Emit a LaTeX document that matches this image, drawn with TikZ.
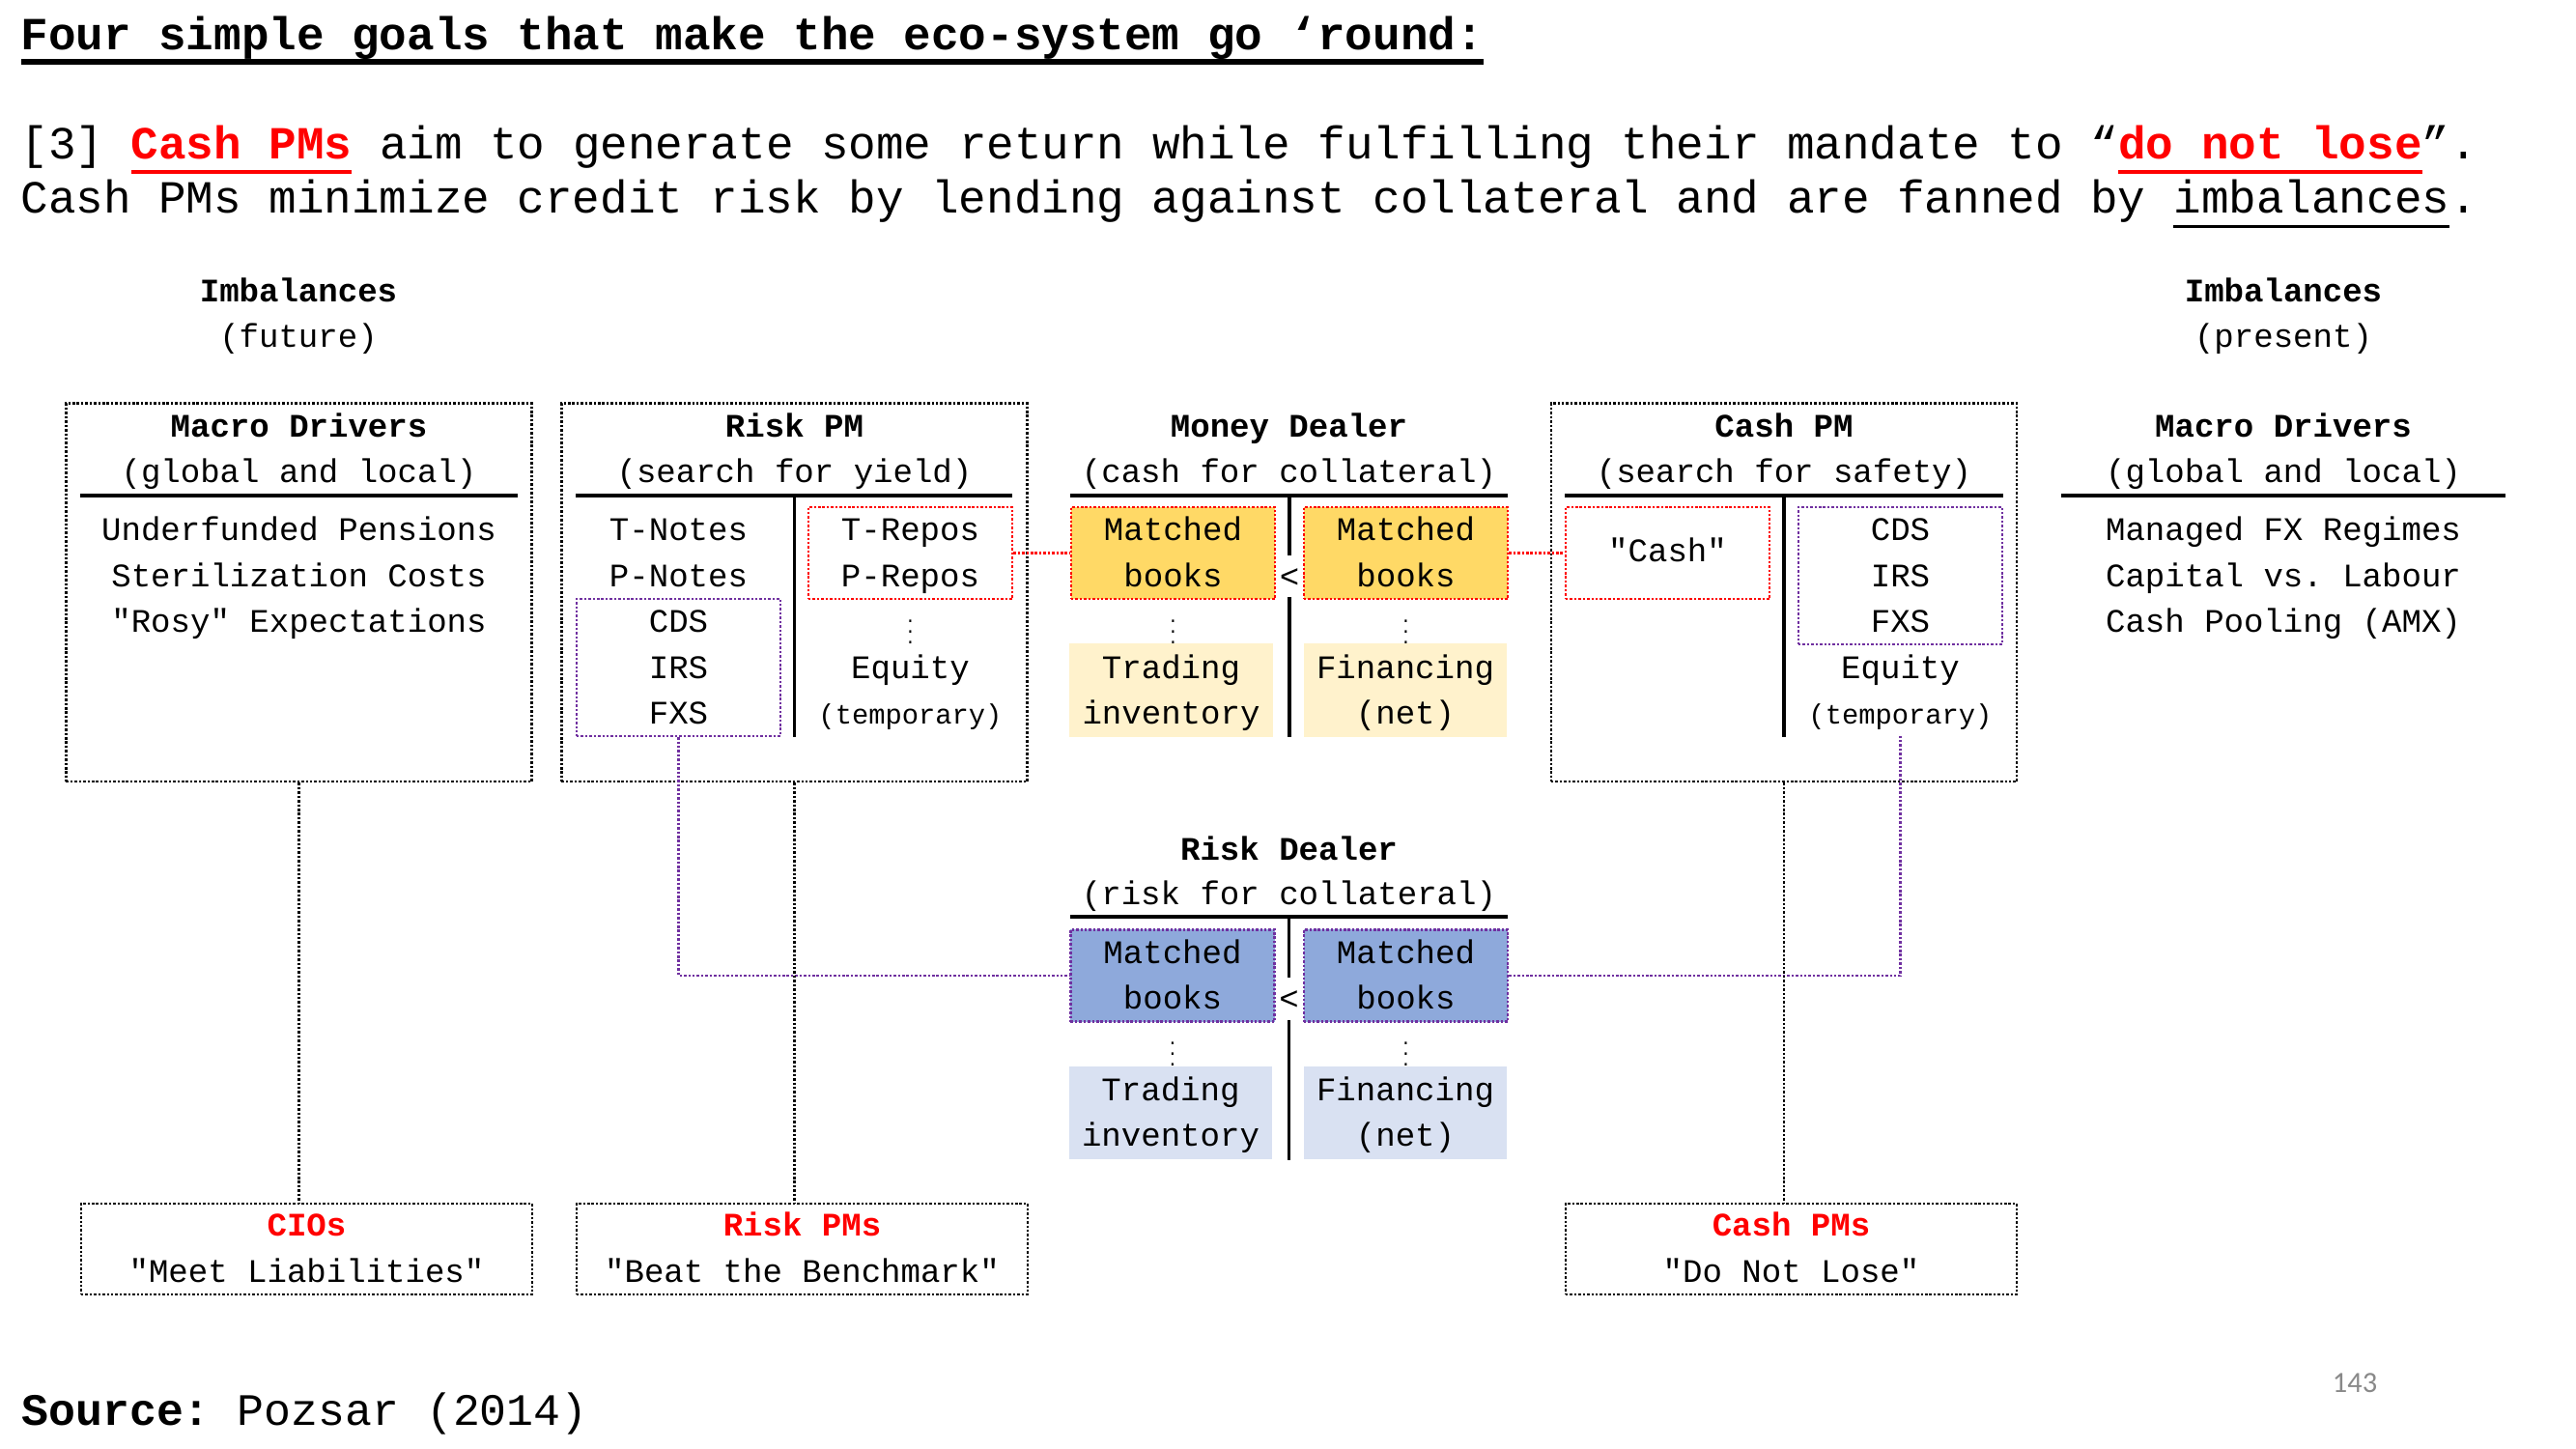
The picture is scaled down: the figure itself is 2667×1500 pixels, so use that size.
\documentclass[tikz,border=0pt]{standalone}
\usepackage{fontspec}
\setmainfont{Liberation Mono}[Ligatures=TeXOff]
\newfontfamily\pagefont{Carlito}
\frenchspacing

\definecolor{purp}{HTML}{7030A0}
\definecolor{bookgold}{HTML}{FFD966}
\definecolor{palegold}{HTML}{FFF2CC}
\definecolor{bookblue}{HTML}{8EA9DB}
\definecolor{paleblue}{HTML}{D9E1F2}
\definecolor{pagegray}{HTML}{898989}

\newcommand\goalsize{\fontsize{17.2pt}{20pt}\selectfont}
\newcommand\sourcesize{\fontsize{16.8pt}{20pt}\selectfont}
\newcommand\cellsize{\fontsize{12.3pt}{15pt}\selectfont}
\newcommand\notesize{\fontsize{10.4pt}{12pt}\selectfont}
\newcommand\dotsize{\fontsize{6.5pt}{7pt}\selectfont}

\newsavebox\markbox
\newcommand\markline[3]{\sbox\markbox{#3}\rlap{\color{#1}\rule[-5.4pt]{\wd\markbox}{#2}}\usebox\markbox}

\begin{document}
\begin{tikzpicture}[x=0.0127cm, y=-0.0127cm,
    frame/.style={draw, line width=0.9pt, dash pattern=on 0.9pt off 0.7pt},
    bigbox/.style={frame, minimum width=6.12cm, minimum height=4.97cm},
    goalbox/.style={frame, minimum width=5.93cm, minimum height=1.19cm},
    redbox/.style={frame, draw=red, minimum width=2.68cm, minimum height=1.21cm},
    swapbox/.style={frame, draw=purp, minimum width=2.68cm, minimum height=1.8cm},
    bookbox/.style={redbox, fill=bookgold},
    riskbox/.style={redbox, draw=purp, fill=bookblue},
    palebox/.style={minimum width=2.67cm, minimum height=1.23cm},
    rule/.style={line width=1.2pt},
    redlink/.style={red, line width=0.9pt, dash pattern=on 0.9pt off 0.7pt},
    purplink/.style={purp, line width=0.9pt, dash pattern=on 0.9pt off 0.7pt},
    cell/.style={anchor=base, inner sep=0pt, font=\cellsize},
    head/.style={cell, font=\cellsize\bfseries},
    note/.style={cell, font=\notesize},
    vdot/.style={inner sep=0pt, font=\dotsize}]
\useasboundingbox (0,0) rectangle (2667,1500);

% slide text
\node[anchor=base west, inner sep=0pt, font=\goalsize] (goal) at (21,52) {\textbf{\markline{black}{2.2pt}{Four simple goals that make the eco-system go ‘round:}}};
\node[anchor=base west, inner sep=0pt, font=\goalsize] (aim) at (21,165) {[3] \markline{red}{1.4pt}{\textcolor{red}{\textbf{Cash PMs}}} aim to generate some return while fulfilling their mandate to “\markline{red}{1.4pt}{\textcolor{red}{\textbf{do not lose}}}”.};
\node[anchor=base west, inner sep=0pt, font=\goalsize] (fan) at (21,221) {Cash PMs minimize credit risk by lending against collateral and are fanned by \markline{black}{0.9pt}{imbalances}.};

\node[head] (pastimb) at (309,313) {Imbalances};
\node[cell] (past) at (309,360) {(future)};
\node[head] (nowimb) at (2364,313) {Imbalances};
\node[cell] (now) at (2364,360) {(present)};

% frames and fills
\node[bigbox] (macro) at (309.5,613.5) {};
\node[bigbox] (riskpm) at (822.5,613.5) {};
\node[bigbox] (cashpm) at (1847,613.5) {};
\node[swapbox] (riskswap) at (702.5,691) {};
\node[redbox] (repo) at (942.5,572.5) {};
\node[bookbox] (mdl) at (1214.5,572.5) {};
\node[bookbox] (mdr) at (1455.5,572.5) {};
\node[palebox, fill=palegold] (mdtl) at (1212.5,714.5) {};
\node[palebox, fill=palegold] (mdtr) at (1455,714.5) {};
\node[redbox] (cashbox) at (1726.5,572.5) {};
\node[swapbox] (cashswap) at (1967.5,596) {};
\node[riskbox] (rdl) at (1214,1010) {};
\node[riskbox] (rdr) at (1455.5,1010) {};
\node[palebox, fill=paleblue] (rdtl) at (1212,1152) {};
\node[palebox, fill=paleblue] (rdtr) at (1455,1152) {};
\node[goalbox] (cios) at (317.5,1293) {};
\node[goalbox] (riskpms) at (830.5,1293) {};
\node[goalbox] (cashpms) at (1854.5,1293) {};

% links
\coordinate (cashtail) at (1967.5,760);
\draw[redlink] (repo) -- (mdl);
\draw[redlink] (mdr) -- (cashbox);
\draw[purplink] (riskswap.south) |- (rdl.west);
\draw[purplink] (rdr.east) -| (cashtail);
\draw[frame] (macro.south) -- (macro.south |- cios.north);
\draw[frame] (riskpm.south) -- (riskpm.south |- riskpms.north);
\draw[frame] (cashpm.south) -- (cashpm.south |- cashpms.north);

% Macro Drivers (future)
\node[head] (macroT) at (309.5,453) {Macro Drivers};
\node[cell] (macroS) at (309.5,500) {(global and local)};
\draw[rule] (83,513) -- (536,513);
\foreach \txt [count=\i] in {Underfunded Pensions, Sterilization Costs, "Rosy" Expectations}
  \node[cell] (macro\i) at (309.5,512+47.6*\i) {\txt};

% Risk PM
\node[head] (riskT) at (822.5,453) {Risk PM};
\node[cell] (riskS) at (822.5,500) {(search for yield)};
\draw[rule] (596,513) -- (1048,513);
\draw[rule] (822.5,513) -- (822.5,763);
\foreach \txt [count=\i] in {T-Notes, P-Notes, CDS, IRS, FXS}
  \node[cell] (riskL\i) at (702.5,512+47.6*\i) {\txt};
\node[cell] (repo1) at (942.5,559.6) {T-Repos};
\node[cell] (repo2) at (942.5,607.2) {P-Repos};
\node[vdot] (repodots) at (942.5,646) {$\vdots$};
\node[cell] (riskeq) at (942.5,702.4) {Equity};
\node[note] (risktmp) at (942.5,750) {(temporary)};

% Money Dealer
\node[head] (mdT) at (1334.5,453) {Money Dealer};
\node[cell] (mdS) at (1334.5,500) {(cash for collateral)};
\draw[rule] (1108,513) -- (1561,513);
\draw[rule] (1335,513) -- (1335,575);
\draw[rule] (1335,618) -- (1335,763);
\node[cell] (mdless) at (1335,609) {<};
\node[cell] (mdl1) at (1214.5,559.6) {Matched};
\node[cell] (mdl2) at (1214.5,607.2) {books};
\node[cell] (mdr1) at (1455.5,559.6) {Matched};
\node[cell] (mdr2) at (1455.5,607.2) {books};
\node[vdot] (mdldots) at (1214.5,646) {$\vdots$};
\node[vdot] (mdrdots) at (1455.5,646) {$\vdots$};
\node[cell] (mdtl1) at (1212.5,702.4) {Trading};
\node[cell] (mdtl2) at (1212.5,750) {inventory};
\node[cell] (mdtr1) at (1455,702.4) {Financing};
\node[cell] (mdtr2) at (1455,750) {(net)};

% Cash PM
\node[head] (cashT) at (1847,453) {Cash PM};
\node[cell] (cashS) at (1847,500) {(search for safety)};
\draw[rule] (1620,513) -- (2074,513);
\draw[rule] (1847,513) -- (1847,763);
\node[cell] (cash1) at (1726.5,582) {"Cash"};
\foreach \txt [count=\i] in {CDS, IRS, FXS}
  \node[cell] (cashR\i) at (1967.5,512+47.6*\i) {\txt};
\node[cell] (casheq) at (1967.5,702.4) {Equity};
\node[note] (cashtmp) at (1967.5,750) {(temporary)};

% Macro Drivers (present)
\node[head] (nowT) at (2364,453) {Macro Drivers};
\node[cell] (nowS) at (2364,500) {(global and local)};
\draw[rule] (2134,513) -- (2594,513);
\foreach \txt [count=\i] in {Managed FX Regimes, Capital vs. Labour, Cash Pooling (AMX)}
  \node[cell] (now\i) at (2364,512+47.6*\i) {\txt};

% Risk Dealer
\node[head] (rdT) at (1334.5,891) {Risk Dealer};
\node[cell] (rdS) at (1334.5,937) {(risk for collateral)};
\draw[rule] (1108,949) -- (1561,949);
\draw[rule] (1334.5,949) -- (1334.5,1012);
\draw[rule] (1334.5,1056) -- (1334.5,1201);
\node[cell] (rdless) at (1334.5,1046) {<};
\node[cell] (rdl1) at (1214,998) {Matched};
\node[cell] (rdl2) at (1214,1045) {books};
\node[cell] (rdr1) at (1455.5,998) {Matched};
\node[cell] (rdr2) at (1455.5,1045) {books};
\node[vdot] (rdldots) at (1214,1083) {$\vdots$};
\node[vdot] (rdrdots) at (1455.5,1083) {$\vdots$};
\node[cell] (rdtl1) at (1212,1140) {Trading};
\node[cell] (rdtl2) at (1212,1187) {inventory};
\node[cell] (rdtr1) at (1455,1140) {Financing};
\node[cell] (rdtr2) at (1455,1187) {(net)};

% goals
\node[head, red] (ciosT) at (317.5,1280) {CIOs};
\node[cell] (ciosS) at (317.5,1327) {"Meet Liabilities"};
\node[head, red] (riskpmsT) at (830.5,1280) {Risk PMs};
\node[cell] (riskpmsS) at (830.5,1327) {"Beat the Benchmark"};
\node[head, red] (cashpmsT) at (1854.5,1280) {Cash PMs};
\node[cell] (cashpmsS) at (1854.5,1327) {"Do Not Lose"};

\node[anchor=base west, inner sep=0pt, font=\sourcesize] (source) at (22,1475) {\textbf{Source:} Pozsar (2014)};
\node[font=\pagefont\fontsize{11pt}{13pt}\selectfont, text=pagegray] (page) at (2438,1432) {143};
\end{tikzpicture}
\end{document}
